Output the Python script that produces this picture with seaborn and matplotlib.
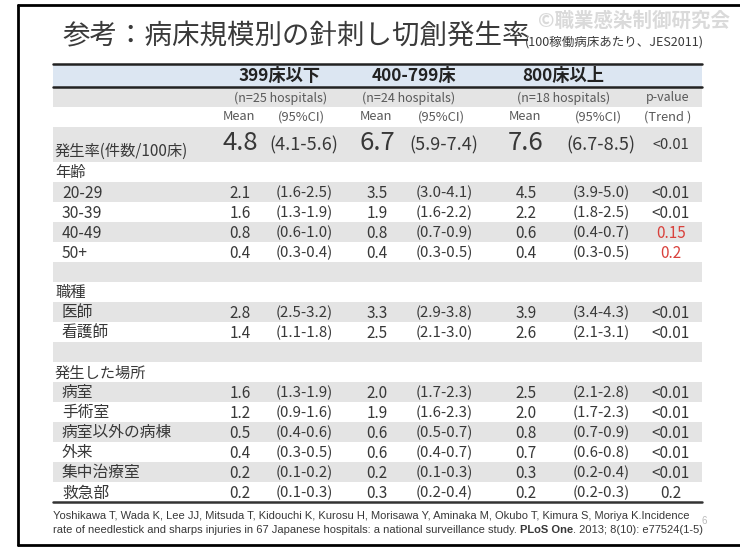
import matplotlib
matplotlib.use("Agg")
import matplotlib.pyplot as plt
import seaborn as sns

# ------------------------------------------------
# TABLE CONTENT
# ------------------------------------------------
title = "参考：病床規模別の針刺し切創発生率"
subtitle = "(100稼働病床あたり、JES2011)"
watermark = "©職業感染制御研究会"

groups = ["399床以下", "400-799床", "800床以上"]
n_hospitals = [25, 24, 18]

row_labels = ["発生率(件数/100床)", "年齢", "20-29", "30-39", "40-49", "50+", "",
              "職種", "医師", "看護師", "",
              "発生した場所", "病室", "手術室", "病室以外の病棟", "外来", "集中治療室", "救急部"]
# category headings (no values) vs. sub items
category_rows = ["年齢", "職種", "発生した場所"]

mean_399 = [4.8, None, 2.1, 1.6, 0.8, 0.4, None, None, 2.8, 1.4, None, None, 1.6, 1.2, 0.5, 0.4, 0.2, 0.2]
ci_399 = ["(4.1-5.6)", None, "(1.6-2.5)", "(1.3-1.9)", "(0.6-1.0)", "(0.3-0.4)", None, None,
          "(2.5-3.2)", "(1.1-1.8)", None, None,
          "(1.3-1.9)", "(0.9-1.6)", "(0.4-0.6)", "(0.3-0.5)", "(0.1-0.2)", "(0.1-0.3)"]
mean_400 = [6.7, None, 3.5, 1.9, 0.8, 0.4, None, None, 3.3, 2.5, None, None, 2.0, 1.9, 0.6, 0.6, 0.2, 0.3]
ci_400 = ["(5.9-7.4)", None, "(3.0-4.1)", "(1.6-2.2)", "(0.7-0.9)", "(0.3-0.5)", None, None,
          "(2.9-3.8)", "(2.1-3.0)", None, None,
          "(1.7-2.3)", "(1.6-2.3)", "(0.5-0.7)", "(0.4-0.7)", "(0.1-0.3)", "(0.2-0.4)"]
mean_800 = [7.6, None, 4.5, 2.2, 0.6, 0.4, None, None, 3.9, 2.6, None, None, 2.5, 2.0, 0.8, 0.7, 0.3, 0.2]
ci_800 = ["(6.7-8.5)", None, "(3.9-5.0)", "(1.8-2.5)", "(0.4-0.7)", "(0.3-0.5)", None, None,
          "(3.4-4.3)", "(2.1-3.1)", None, None,
          "(2.1-2.8)", "(1.7-2.3)", "(0.7-0.9)", "(0.6-0.8)", "(0.2-0.4)", "(0.2-0.3)"]
p_trend = ["<0.01", None, "<0.01", "<0.01", "0.15", "0.2", None, None, "<0.01", "<0.01", None, None,
           "<0.01", "<0.01", "<0.01", "<0.01", "<0.01", "0.2"]
p_red_rows = ["40-49", "50+"]

cite_line1 = ("Yoshikawa T, Wada K, Lee JJ, Mitsuda T, Kidouchi K, Kurosu H, Morisawa Y, "
              "Aminaka M, Okubo T, Kimura S, Moriya K.Incidence")
cite_line2 = ["rate of needlestick and sharps injuries in 67 Japanese hospitals: "
              "a national surveillance study. ", "PLoS One", ". 2013; 8(10): e77524(1-5)"]
page_no = "6"

# ------------------------------------------------
# STYLE / LAYOUT (pixel coords of the 740x547 slide)
# ------------------------------------------------
sns.set_theme(style="white")
plt.rcParams['font.family'] = ['Noto Sans CJK JP', 'DejaVu Sans']

W, H = 740, 547
tbl_left, tbl_right = 53, 702
mean_x = [240, 377, 526]
ci_x = [304, 444, 601]
p_x = 671
head_x = [280, 414, 563]
n_x = [281, 409, 564]
grey = "#e4e4e4"
blue = "#dce6f2"
txt = "#383838"
small = "#595959"

fig = plt.figure(figsize=(W / 100, H / 100), dpi=100)
ax = fig.add_axes([0, 0, 1, 1])
ax.set_xlim(0, W)
ax.set_ylim(H, 0)
ax.axis("off")

# slide frame
ax.plot([18, W], [5, 5], color="black", lw=2)
ax.plot([18, 18], [5, 545], color="black", lw=2)
ax.plot([18, W], [545, 545], color="black", lw=2)

# title
ax.text(62, 37, title, fontsize=19.8, color="#3a3a3a", va="center", ha="left")
ax.text(525, 42.5, subtitle, fontsize=9, color="#3a3a3a", va="center", ha="left")
ax.text(730, 21, watermark, fontsize=14, color="#dadada", fontweight="bold",
        va="center", ha="right", zorder=0)

# header band
ax.fill_between([tbl_left, tbl_right], 64, 87, color=blue, lw=0)
ax.plot([tbl_left, tbl_right], [64, 64], color="#222222", lw=1.8)
ax.plot([tbl_left, tbl_right], [87, 87], color="#222222", lw=1.8)
for x, g in zip(head_x, groups):
    ax.text(x, 76, g, fontsize=12.4, fontweight="bold", color="#222222", ha="center", va="center")

ax.fill_between([tbl_left, tbl_right], 88, 107, color=grey, lw=0)
for x, n in zip(n_x, n_hospitals):
    ax.text(x, 98, f"(n={n} hospitals)", fontsize=9, color=small, ha="center", va="center")
ax.text(p_x - 3, 98, "p-value", fontsize=9, color=small, ha="center", va="center")
for mx, cx in zip(mean_x, ci_x):
    ax.text(mx - 1, 117, "Mean", fontsize=9.3, color=small, ha="center", va="center")
    ax.text(cx - 3, 117, "(95%CI)", fontsize=9.3, color=small, ha="center", va="center")
ax.text(p_x - 3, 117, "(Trend )", fontsize=9.3, color=small, ha="center", va="center")

# body rows
row_top = [127, 162] + [162 + 20 * i for i in range(1, 17)]
row_bot = [162] + [162 + 20 * i for i in range(1, 18)]
means = [mean_399, mean_400, mean_800]
cis = [ci_399, ci_400, ci_800]

for i, label in enumerate(row_labels):
    top, bot = row_top[i], row_bot[i]
    yc = (top + bot) / 2 + 1
    if i % 2 == 0:
        ax.fill_between([tbl_left, tbl_right], top, bot, color=grey, lw=0)
    if i == 0:
        ax.text(55, 151, label, fontsize=11, color=txt, ha="left", va="center")
        for k in range(3):
            ax.text(mean_x[k], 143, f"{means[k][i]:.1f}", fontsize=18.5, color=txt,
                    ha="center", va="center")
            ax.text(ci_x[k], 145, cis[k][i], fontsize=13, color=txt, ha="center", va="center")
        ax.text(p_x, 145, p_trend[i], fontsize=10.5, color=txt, ha="center", va="center")
        continue
    if label in category_rows:
        ax.text(55, yc, label, fontsize=11, color=txt, ha="left", va="center")
        continue
    if label == "":
        continue
    ax.text(62, yc, label, fontsize=11.3, color=txt, ha="left", va="center")
    for k in range(3):
        ax.text(mean_x[k], yc, f"{means[k][i]:.1f}", fontsize=11, color=txt,
                ha="center", va="center")
        ax.text(ci_x[k], yc, cis[k][i], fontsize=10.8, color=txt, ha="center", va="center")
    pcol = "#d9413c" if label in p_red_rows else txt
    ax.text(p_x, yc, p_trend[i], fontsize=11, color=pcol, ha="center", va="center")

ax.plot([tbl_left, tbl_right], [502, 502], color="#333333", lw=1.8)

# citation
cite_font = ["Liberation Sans", "DejaVu Sans"]
cfs = 8.05
t1 = ax.text(53, 516, cite_line1, fontsize=cfs, family=cite_font, color=txt, ha="left", va="center")
t2 = ax.text(53, 530, cite_line2[0], fontsize=cfs, family=cite_font, color=txt, ha="left", va="center")
t3 = ax.annotate(cite_line2[1], xy=(1, 0), xycoords=t2, fontsize=cfs, family=cite_font,
                 fontweight="bold", color=txt, ha="left", va="bottom")
ax.annotate(cite_line2[2], xy=(1, 0), xycoords=t3, fontsize=cfs, family=cite_font,
            color=txt, ha="left", va="bottom")
ax.text(702, 521, page_no, fontsize=7, family=cite_font, color="#bbbbbb", ha="left", va="center")

fig.savefig("out.png", dpi=100)
